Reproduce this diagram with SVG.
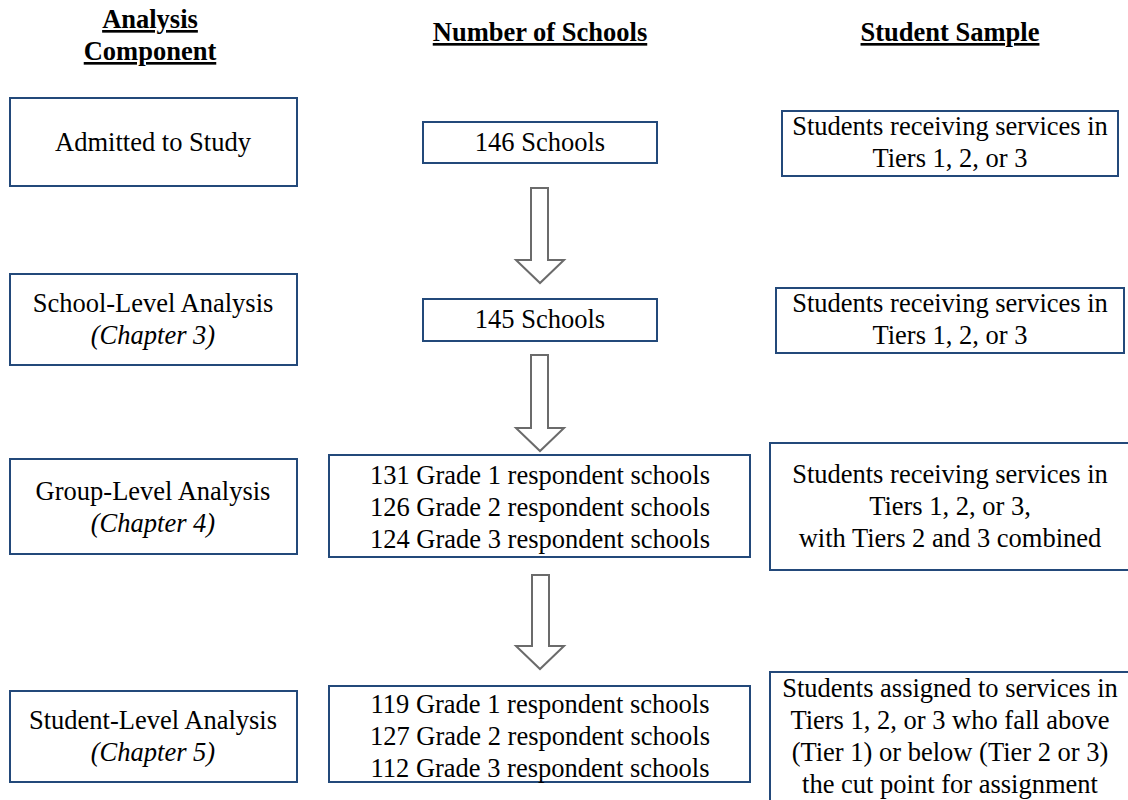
<svg xmlns="http://www.w3.org/2000/svg" width="1128" height="800" viewBox="0 0 1128 800">
<style>
.box{fill:#fff;stroke:#23497a;stroke-width:2}
.arrow{fill:#fff;stroke:#6b6b6b;stroke-width:2;stroke-linejoin:miter}
text{font-family:"Liberation Serif","Times New Roman",serif;font-size:26.5px;fill:#000;text-anchor:middle}
.hdr{font-weight:bold;font-size:26.5px;text-decoration:underline}
.it{font-style:italic}
</style>
<rect width="1128" height="800" fill="#fff"/>
<g id="headers">
<text class="hdr" x="150" y="28">Analysis</text>
<text class="hdr" x="150" y="60">Component</text>
<text class="hdr" x="540" y="41">Number of Schools</text>
<text class="hdr" x="950" y="41">Student Sample</text>
</g>
<g id="connectors">
<path class="arrow" d="M531,188 H548 V260 H564 L540,283 L516,260 H531 Z"/>
<path class="arrow" d="M531,355 H548 V428 H564 L540,451 L516,428 H531 Z"/>
<path class="arrow" d="M532,575 H549 V646 H564 L540,669 L516,646 H532 Z"/>
</g>
<g id="comp-admitted"><rect class="box" x="10" y="98" width="287" height="88"/><text x="153" y="151">Admitted to Study</text></g>
<g id="comp-school"><rect class="box" x="10" y="274" width="287" height="91"/><text x="153" y="312">School-Level Analysis</text><text class="it" x="153" y="344">(Chapter 3)</text></g>
<g id="comp-group"><rect class="box" x="10" y="459" width="287" height="95"/><text x="153" y="500">Group-Level Analysis</text><text class="it" x="153" y="532">(Chapter 4)</text></g>
<g id="comp-student"><rect class="box" x="10" y="691" width="287" height="91"/><text x="153" y="729">Student-Level Analysis</text><text class="it" x="153" y="761">(Chapter 5)</text></g>
<g id="schools-146"><rect class="box" x="423" y="122" width="234" height="41"/><text x="540" y="151">146 Schools</text></g>
<g id="schools-145"><rect class="box" x="423" y="299" width="234" height="42"/><text x="540" y="328">145 Schools</text></g>
<g id="schools-group"><rect class="box" x="329" y="455" width="421" height="102"/><text x="540" y="484">131 Grade 1 respondent schools</text><text x="540" y="516">126 Grade 2 respondent schools</text><text x="540" y="548">124 Grade 3 respondent schools</text></g>
<g id="schools-student"><rect class="box" x="329" y="686" width="421" height="96"/><text x="540" y="713">119 Grade 1 respondent schools</text><text x="540" y="745">127 Grade 2 respondent schools</text><text x="540" y="777">112 Grade 3 respondent schools</text></g>
<g id="sample-admitted"><rect class="box" x="782" y="111" width="336" height="65"/><text x="950" y="135">Students receiving services in</text><text x="950" y="167">Tiers 1, 2, or 3</text></g>
<g id="sample-school"><rect class="box" x="776" y="288" width="348" height="65"/><text x="950" y="312">Students receiving services in</text><text x="950" y="344">Tiers 1, 2, or 3</text></g>
<g id="sample-group"><rect class="box" x="770" y="443" width="362" height="127"/><text x="950" y="483">Students receiving services in</text><text x="950" y="515">Tiers 1, 2, or 3,</text><text x="950" y="547">with Tiers 2 and 3 combined</text></g>
<g id="sample-student"><rect class="box" x="770" y="672" width="362" height="132"/><text x="950" y="697">Students assigned to services in</text><text x="950" y="729">Tiers 1, 2, or 3 who fall above</text><text x="950" y="761">(Tier 1) or below (Tier 2 or 3)</text><text x="950" y="793">the cut point for assignment</text></g>
</svg>
